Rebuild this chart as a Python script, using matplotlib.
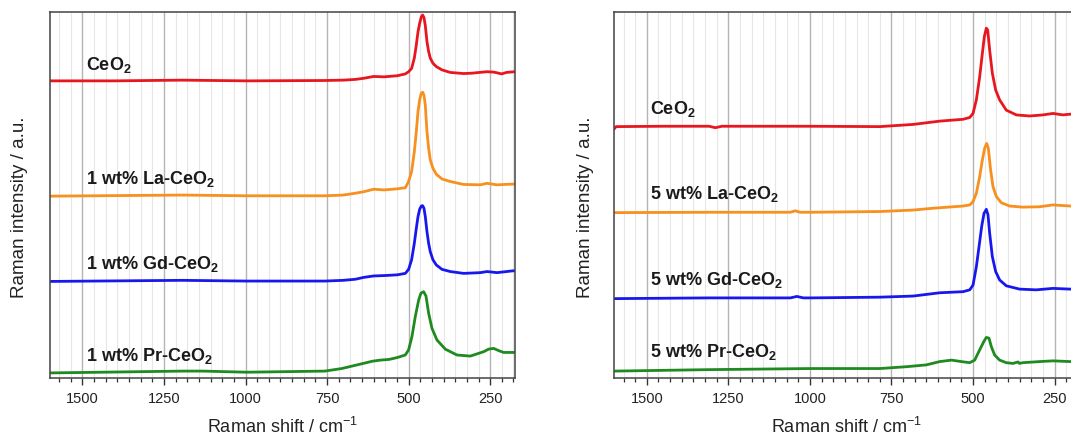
import numpy as np
from matplotlib import pyplot as plt
from matplotlib.ticker import MultipleLocator, AutoMinorLocator

plt.rcParams['font.family'] = ['Liberation Sans', 'DejaVu Sans']
plt.rcParams['mathtext.fontset'] = 'custom'
plt.rcParams['mathtext.rm'] = 'Liberation Sans'
plt.rcParams['mathtext.bf'] = 'Liberation Sans:bold'

## Espectros Raman (intensidad en u.a., ya desplazada)
# 1 wt% (panel izquierdo)
w_ceo2_a = [1600, 1400, 1194, 996, 757, 700, 663, 638, 607, 575, 535, 510, 500, 490.8, 482.5, 476.4, 471.2,
            466.2, 461.1, 457, 452.9, 448.8, 443.7, 438.6, 433.5, 425.3, 415.1, 397.7, 372.2, 331.3,
            306, 260, 240, 229, 215, 200, 175]
i_ceo2_a = [81.1, 81.1, 81.3, 81.1, 81.2, 81.3, 81.5, 81.8, 82.3, 82.2, 82.5, 83.0, 83.6, 84.5, 87.3, 90.9, 94.5,
            96.8, 98.6, 99.1, 98.4, 96.2, 91.8, 89.1, 87.3, 85.9, 85.0, 84.1, 83.4, 83.1,
            83.2, 83.6, 83.5, 83.3, 83.0, 83.4, 83.6]

w_la1 = [1600, 1194, 996, 757, 700, 663, 638, 607, 575, 535, 510, 500, 490.8, 482.5, 476.4, 471.2, 466.2,
         461.1, 457, 452.9, 448.8, 443.7, 438.6, 433.5, 425.3, 415.1, 397.7, 372.2, 331.3, 280.2,
         259.8, 229.1, 180.1, 175]
i_la1 = [49.6, 49.9, 49.7, 49.7, 49.9, 50.4, 50.8, 51.5, 51.3, 51.6, 51.9, 53.6, 56.3, 61.7, 67.2, 72.7, 75.9,
         77.7, 78.0, 77.2, 74.5, 67.2, 62.7, 59.5, 57.2, 55.6, 54.3, 53.6, 52.8, 52.7,
         53.1, 52.7, 52.9, 52.9]

w_gd1 = [1600, 1194, 996, 757, 700, 663, 638, 607, 575, 535, 510, 500, 490.8, 482.5, 476.4, 471.2, 466.2,
         461.1, 457, 452.9, 448.8, 443.7, 438.6, 433.5, 425.3, 415.1, 397.7, 372.2, 331.3, 280.2,
         259.8, 229.1, 180.1, 175]
i_gd1 = [26.3, 26.6, 26.4, 26.4, 26.6, 26.9, 27.4, 27.8, 27.9, 28.1, 28.5, 29.6, 32.2, 36.7, 40.8, 44.0, 46.0,
         46.9, 47.0, 46.3, 44.0, 39.9, 36.7, 34.4, 32.2, 30.8, 29.6, 29.0, 28.5, 28.7,
         29.0, 28.7, 29.2, 29.2]

w_pr1 = [1600, 1194, 1131, 996, 757, 705, 653, 611, 587, 559, 535, 510.1, 500, 489.8, 479.5, 469.2,
         462.2, 454, 446.7, 438.6, 428.4, 413.1, 387.5, 351.8, 310.9, 270, 254.7, 239.3, 224,
         208.7, 180.1, 175]
i_pr1 = [1.3, 1.8, 1.8, 1.5, 1.8, 2.5, 3.6, 4.5, 4.8, 5.0, 5.5, 6.2, 7.6, 11.2, 16.7, 21.2,
         23.1, 23.5, 22.3, 17.6, 13.5, 10.3, 7.8, 6.2, 5.9, 7.1, 7.8, 8.0, 7.4,
         6.9, 6.9, 6.9]

# 5 wt% (panel derecho)
w_ceo2_b = [1600, 1594, 1450, 1309, 1290, 1270, 997.5, 785.7, 683.7, 602, 530.6, 510, 500, 489.8,
            479.6, 471.4, 465.3, 459.2, 455, 449, 440.8, 430.6, 418.4, 398, 367.3, 326.5, 285.7,
            255, 224.5, 202, 175]
i_ceo2_b = [68.0, 68.6, 68.7, 68.7, 68.3, 68.7, 68.7, 68.6, 69.2, 70.1, 70.6, 71.1, 72.2, 75.9,
            82.2, 88.6, 93.2, 95.5, 95.0, 89.5, 83.2, 78.6, 75.9, 73.1, 71.8, 71.5, 71.8,
            72.2, 71.8, 72.0, 72.0]

w_la5 = [1600, 1309, 1060, 1045, 1030, 997.5, 785.7, 683.7, 622.4, 530.6, 510, 500, 489.8, 479.6,
         471.4, 464.3, 458.2, 453.1, 446, 438.8, 428.6, 413.3, 387.8, 347, 296, 255, 202, 175]
i_la5 = [45.1, 45.2, 45.2, 45.6, 45.2, 45.2, 45.4, 45.8, 46.3, 46.9, 47.2, 48.1, 50.4, 54.9,
         59.5, 62.7, 64.0, 62.7, 56.7, 52.2, 49.5, 47.8, 46.9, 46.6, 46.7, 47.2, 46.9, 46.9]

w_gd5 = [1600, 1309, 1060, 1040, 1020, 997.5, 785.7, 683.7, 602, 530.6, 510, 500, 489.8, 481.6,
         473.5, 466.3, 459.2, 454.1, 449, 440.8, 430.6, 418.4, 398, 357.2, 306.2, 255, 202, 175]
i_gd5 = [21.6, 21.8, 21.8, 22.2, 21.8, 21.8, 22.0, 22.3, 23.2, 23.5, 24.0, 25.3, 30.3, 35.8,
         41.3, 44.9, 46.0, 44.5, 39.5, 33.1, 29.0, 26.7, 25.1, 24.2, 24.0, 24.4, 24.2, 24.2]

w_pr5 = [1600, 1309, 997.5, 785.7, 704, 643, 602, 566, 535.7, 510, 494.9, 479.6, 467.3, 459.2,
         451, 443.9, 433.7, 418.4, 398, 377.6, 362, 358, 347, 296, 255, 202, 175]
i_pr5 = [1.8, 2.2, 2.5, 2.5, 3.0, 3.5, 4.4, 4.8, 4.4, 4.1, 4.8, 7.6, 9.8, 11.0,
         10.8, 8.5, 6.2, 4.8, 4.1, 3.9, 4.3, 3.9, 4.1, 4.4, 4.6, 4.4, 4.4]

labels_1 = [r'CeO$_\mathbf{2}$', r'1 wt% La-CeO$_\mathbf{2}$', r'1 wt% Gd-CeO$_\mathbf{2}$', r'1 wt% Pr-CeO$_\mathbf{2}$']
labels_5 = [r'CeO$_\mathbf{2}$', r'5 wt% La-CeO$_\mathbf{2}$', r'5 wt% Gd-CeO$_\mathbf{2}$', r'5 wt% Pr-CeO$_\mathbf{2}$']
label_y_1 = [84.2, 52.9, 29.6, 4.5]
label_y_5 = [72.0, 48.7, 25.2, 5.7]

colores = ['#e8161e', '#f7901e', '#1818ee', '#1f8a1f']

fig = plt.figure(figsize=(10.71, 4.38), dpi=100)
ax1 = fig.add_axes([0.0465, 0.1377, 0.434, 0.8356])
ax2 = fig.add_axes([0.5735, 0.1377, 0.434, 0.8356])

paneles = [
    (ax1, [(w_ceo2_a, i_ceo2_a), (w_la1, i_la1), (w_gd1, i_gd1), (w_pr1, i_pr1)], labels_1, label_y_1, -0.047),
    (ax2, [(w_ceo2_b, i_ceo2_b), (w_la5, i_la5), (w_gd5, i_gd5), (w_pr5, i_pr5)], labels_5, label_y_5, -0.043),
]

for ax, espectros, etiquetas, ypos, ylab_x in paneles:
    for (w, inten), c in zip(espectros, colores):
        ax.plot(w, inten, color=c, lw=2.0, solid_joinstyle='round')
    for txt, yy in zip(etiquetas, ypos):
        ax.text(1490, yy, txt, fontsize=13, fontweight='bold', color='#1a1a1a', va='baseline', ha='left')

    ax.set_xlim(1600, 175)
    ax.set_ylim(0, 100)
    ax.xaxis.set_major_locator(MultipleLocator(250))
    ax.xaxis.set_minor_locator(AutoMinorLocator(7))
    ax.set_yticks([])
    ax.grid(which='major', axis='x', color='#b4b4b4', lw=1.0)
    ax.grid(which='minor', axis='x', color='#e6e6e6', lw=0.8)
    ax.set_axisbelow(True)
    ax.tick_params(axis='x', which='major', length=5, width=1.0, direction='out', pad=5,
                   labelsize=10.5, colors='#333333', labelcolor='#222222')
    ax.tick_params(axis='x', which='minor', length=3, width=0.9, direction='out', colors='#333333')
    for s in ax.spines.values():
        s.set_color('#444444')
        s.set_linewidth(1.1)

    ax.set_xlabel(r'Raman shift / cm$^{-1}$', fontsize=13, color='#222222')
    ax.xaxis.set_label_coords(0.5, -0.106)
    ax.set_ylabel('Raman intensity / a.u.', fontsize=13.5, color='#222222')
    ax.yaxis.set_label_coords(ylab_x, 0.466)

plt.savefig('out.png', dpi=100)
